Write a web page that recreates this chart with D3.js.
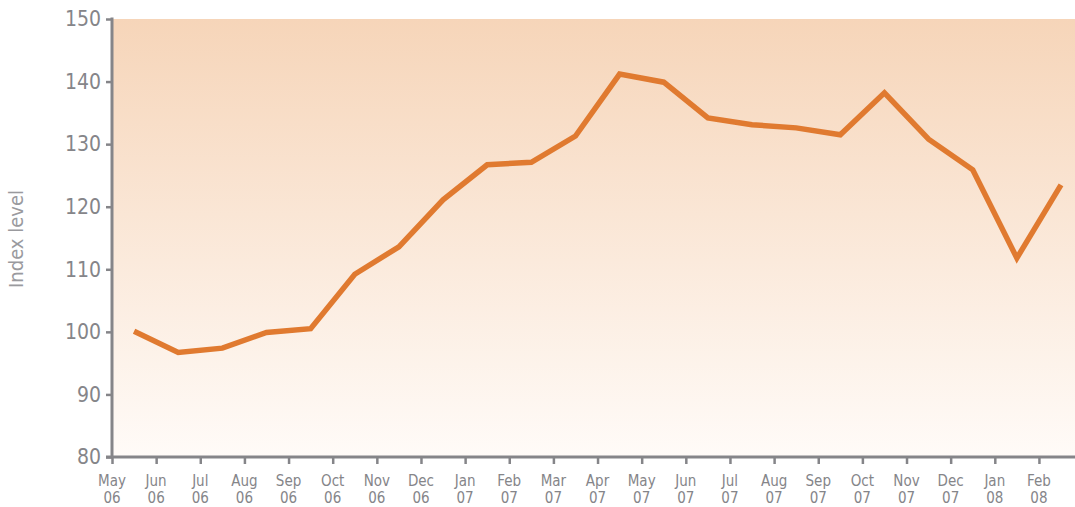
<!DOCTYPE html>
<html>
<head>
<meta charset="utf-8">
<script src="https://cdn.jsdelivr.net/npm/d3@7"></script>
<style>
  body { margin: 0; background: #fff; }
  text { font-family: "Liberation Sans Narrow", "DejaVu Sans Condensed", sans-serif; }
</style>
</head>
<body>
<div id="viz"></div>
<script>
const months = ["May","Jun","Jul","Aug","Sep","Oct","Nov","Dec","Jan","Feb","Mar","Apr",
  "May","Jun","Jul","Aug","Sep","Oct","Nov","Dec","Jan","Feb"]
const years = ["06","06","06","06","06","06","06","06","07","07","07","07",
  "07","07","07","07","07","07","07","07","08","08"]
const values = [100.1, 96.7, 97.4, 99.9, 100.5, 109.2, 113.6, 121.1, 126.7, 127.1, 131.3,
  141.2, 139.9, 134.2, 133.1, 132.6, 131.5, 138.2, 130.8, 125.9, 111.8, 123.5]
const yTicks = [80, 90, 100, 110, 120, 130, 140, 150]

const W = 1075, H = 507
const mLeft = 112, mTop = 19, mBottom = 457
const step = 44.14

const svg = d3.select("#viz").append("svg").attr("width", W).attr("height", H)

const defs = svg.append("defs")
const grad = defs.append("linearGradient").attr("id", "bg")
  .attr("x1", 0).attr("y1", 0).attr("x2", 0).attr("y2", 1)
grad.append("stop").attr("offset", "0%").attr("stop-color", "#f6d5b9")
grad.append("stop").attr("offset", "100%").attr("stop-color", "#fffbf8")

const x = d3.scaleLinear().domain([0, 22]).range([mLeft, mLeft + 22 * step])
const y = d3.scaleLinear().domain([80, 150]).range([mBottom, mTop])

svg.append("rect")
  .attr("x", mLeft).attr("y", mTop)
  .attr("width", x(22) - mLeft).attr("height", mBottom - mTop)
  .attr("fill", "url(#bg)")

// y axis
const yAxis = svg.append("g").attr("transform", `translate(${mLeft},0)`)
  .call(d3.axisLeft(y).tickValues(yTicks).tickSize(6).tickPadding(5))
yAxis.select(".domain").attr("stroke", "#858589").attr("stroke-width", 3)
  .attr("d", `M0,${mTop - 1.5}V${mBottom}`)
yAxis.selectAll(".tick line").attr("stroke", "#858589").attr("stroke-width", 2.5)
yAxis.selectAll(".tick text").attr("fill", "#858589").attr("font-size", 21)
  .attr("font-family", "'Liberation Sans Narrow', 'DejaVu Sans Condensed', sans-serif")

// x axis
const xAxis = svg.append("g").attr("transform", `translate(0,${mBottom})`)
  .call(d3.axisBottom(x).tickValues(d3.range(22)).tickSize(7).tickFormat(""))
xAxis.select(".domain").attr("stroke", "#858589").attr("stroke-width", 3)
  .attr("d", `M${mLeft - 6},0H${W}`)
xAxis.selectAll(".tick line").attr("stroke", "#858589").attr("stroke-width", 2.5)

// two-line month labels
const lbl = svg.append("g").attr("fill", "#858589").attr("font-size", 15)
  .attr("text-anchor", "middle")
lbl.selectAll(".m").data(months).enter().append("text")
  .attr("class", "m")
  .attr("x", (d, i) => x(i)).attr("y", mBottom + 29)
  .text(d => d)
lbl.selectAll(".yr").data(years).enter().append("text")
  .attr("class", "yr")
  .attr("x", (d, i) => x(i)).attr("y", mBottom + 46)
  .text(d => d)

svg.append("text")
  .attr("transform", `translate(23,${(mTop + mBottom) / 2 + 1}) rotate(-90)`)
  .attr("text-anchor", "middle")
  .attr("fill", "#9a9a9e")
  .attr("font-size", 20)
  .text("Index level")

const line = d3.line()
  .x((d, i) => x(i + 0.5))
  .y(d => y(d))

svg.append("path")
  .datum(values)
  .attr("d", line)
  .attr("fill", "none")
  .attr("stroke", "#e07a30")
  .attr("stroke-width", 5.5)
  .attr("stroke-linejoin", "miter")
</script>
</body>
</html>
